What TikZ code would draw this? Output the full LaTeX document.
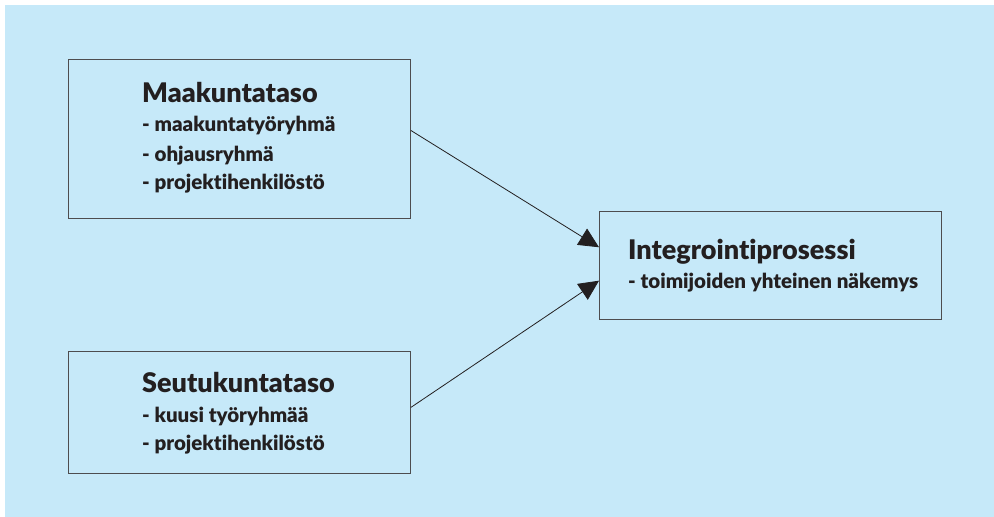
\documentclass[tikz,border=0pt]{standalone}
\usepackage{fontspec}
\setmainfont{Lato}[BoldFont={Lato Black}, Ligatures=NoCommon]
\usetikzlibrary{calc,arrows.meta}
\definecolor{bg}{HTML}{C6E9F9}
\definecolor{ink}{HTML}{231F20}
\definecolor{edge}{HTML}{4D4D4F}
\tikzset{
  box/.style={draw=edge, line width=0.9pt, fill=none, inner sep=0pt, anchor=north west},
  ttl/.style={anchor=base west, inner sep=0pt, text=ink, font=\fontsize{27}{30}\selectfont\bfseries},
  sub/.style={anchor=base west, inner sep=0pt, text=ink, font=\fontsize{20.5}{24}\selectfont\bfseries},
  conn/.style={draw=ink, line width=0.8pt, -{Triangle[length=20pt,width=19pt]}}
}
\begin{document}
\begin{tikzpicture}[x=1pt,y=1pt]
\useasboundingbox (0,0) rectangle (994,517);
\fill[bg] (5,0) rectangle (994,512);
% boxes
\node[box, minimum width=342pt, minimum height=159pt] (b1) at (68,458) {};
\node[box, minimum width=342pt, minimum height=122pt] (b2) at (68,166) {};
\node[box, minimum width=342pt, minimum height=108pt] (b3) at (599,306) {};
% texts
\node[ttl] (t1) at (142,414) {Maakuntataso};
\node[sub] (t1a) at (142,385) {- maakuntatyöryhmä};
\node[sub] (t1b) at (142,355) {- ohjausryhmä};
\node[sub] (t1c) at (142,327) {- projektihenkilöstö};
\node[ttl] (t2) at (142,124) {Seutukuntataso};
\node[sub] (t2a) at (142,94) {- kuusi työryhmää};
\node[sub] (t2b) at (142,66) {- projektihenkilöstö};
\node[ttl] (t3) at (628,257) {Integrointiprosessi};
\node[sub] (t3a) at (628,228) {- toimijoiden yhteinen näkemys};
% connectors
\coordinate (s1) at ($(b1.north east)!0.447!(b1.south east)$);
\coordinate (e1) at ($(b3.north west)!0.333!(b3.south west)$);
\coordinate (s2) at ($(b2.north east)!0.459!(b2.south east)$);
\coordinate (e2) at ($(b3.north west)!0.64!(b3.south west)$);
\draw[conn] (s1) -- (e1);
\draw[conn] (s2) -- (e2);
\end{tikzpicture}
\end{document}
